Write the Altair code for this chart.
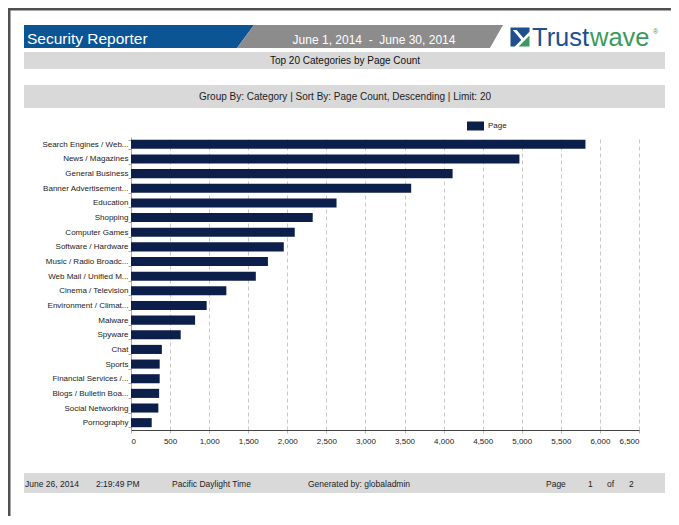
import altair as alt
import pandas as pd

# ---------------- data ----------------
categories = [
    "Search Engines / Web...", "News / Magazines", "General Business",
    "Banner Advertisement...", "Education", "Shopping", "Computer Games",
    "Software / Hardware", "Music / Radio Broadc...", "Web Mail / Unified M...",
    "Cinema / Television", "Environment / Climat...", "Malware", "Spyware",
    "Chat", "Sports", "Financial Services /...", "Blogs / Bulletin Boa...",
    "Social Networking", "Pornography",
]
pages = [5815, 4970, 4115, 3585, 2630, 2325, 2095, 1955, 1752, 1597,
         1220, 968, 820, 636, 395, 367, 367, 360, 350, 265]
series = ["Page"] * len(categories)
x_ticks = list(range(0, 7000, 500))

title_text = "Security Reporter"
date_text = "June 1, 2014\u00a0\u00a0-\u00a0\u00a0June 30, 2014"
report_title = "Top 20 Categories by Page Count"
group_text = "Group By: Category | Sort By: Page Count, Descending | Limit: 20"
footer_items = [("June 26, 2014", 25), ("2:19:49 PM", 96), ("Pacific Daylight Time", 172),
                ("Generated by: globaladmin", 308), ("Page", 546), ("1", 588),
                ("of", 607), ("2", 629)]

FONT = "Liberation Sans"
BAR = "#0c1f4b"
BLUE = "#0b5595"
GRAY_HDR = "#8c8c8c"
BAND = "#d9d9d9"

# plot origin in page coordinates (page margin 8 + padding)
PADL, PADT = 123, 129
W, H = 508, 293
OX, OY = 8 + PADL, 8 + PADT

one = pd.DataFrame({"k": [0]})


def rect(x1, y1, x2, y2, color):
    return alt.Chart(one).mark_rect(color=color).encode(
        x=alt.value(x1 - OX), x2=alt.value(x2 - OX),
        y=alt.value(y1 - OY), y2=alt.value(y2 - OY))


def txt(s, X, Y, size, color, align="left", weight="normal"):
    return alt.Chart(one).mark_text(
        text=s, align=align, baseline="middle", fontSize=size, color=color,
        font=FONT, fontWeight=weight).encode(
        x=alt.value(X - OX), y=alt.value(Y - OY))


def shape(path, cx, cy, half, color):
    return alt.Chart(one).mark_point(
        shape=path, filled=True, size=(2 * half) ** 2, color=color,
        opacity=1, strokeWidth=0).encode(
        x=alt.value(cx - OX), y=alt.value(cy - OY))


layers = []
# page border (left + top)
layers.append(rect(8, 8, 679, 10.5, "#505050"))
layers.append(rect(8, 8, 10.5, 525, "#505050"))

# header: blue parallelogram
layers.append(shape("M-1,-0.1L1,-0.1L0.852,0.1L-1,0.1Z", 139, 36.5, 115, BLUE))
# header: gray parallelogram
layers.append(shape("M-0.872,-0.0865L1,-0.0865L0.902,0.0865L-1,0.0865Z", 370, 36.5, 133, GRAY_HDR))
layers.append(txt(title_text, 27, 39, 15.5, "white"))
layers.append(txt(date_text, 374, 39.5, 12, "white", align="center"))

# logo
layers.append(shape("M-1,-1L1,-1L1,-0.55L-0.55,1L-1,1Z", 520, 37, 9.5, "#1d4f91"))
layers.append(shape("M1,-0.15L1,1L-0.15,1Z", 520, 37, 9.5, "#3a9a5c"))
layers.append(shape("M-0.75,-0.75L-0.35,-0.75L0.55,0.35L0.15,0.35Z", 520, 37, 9.5, "white"))
layers.append(txt("Trust", 532, 38, 25.5, "#1d4f91"))
layers.append(txt("wave", 590, 38, 25.5, "#3a9a5c"))
layers.append(txt("\u00ae", 653, 32, 7, "#3a9a5c"))

# gray bands
layers.append(rect(24, 52, 665, 69, BAND))
layers.append(txt(report_title, 345, 61, 10, "#111", align="center"))
layers.append(rect(24, 85, 665, 108, BAND))
layers.append(txt(group_text, 345, 97, 10, "#222", align="center"))
layers.append(rect(24, 473, 665, 493, BAND))
for s, X in footer_items:
    layers.append(txt(s, X, 483.5, 8.5, "#222"))

# ---------------- bar chart ----------------
df = pd.DataFrame({"Category": categories, "Page Count": pages, "Series": series})

bars = alt.Chart(df).mark_bar().encode(
    y=alt.Y("Category:N", sort=categories,
            scale=alt.Scale(paddingInner=0.38, paddingOuter=0.19),
            axis=alt.Axis(title=None, labelFontSize=8, labelColor="#222", labelFont=FONT,
                          domainColor="#aaaaaa", tickColor="#aaaaaa", tickSize=3,
                          tickBand="extent", labelPadding=0, grid=False)),
    x=alt.X("Page Count:Q", scale=alt.Scale(domain=[0, 6500], nice=False, zero=True),
            axis=alt.Axis(title=None, values=x_ticks, format=",.0f", labelFontSize=8,
                          labelColor="#222", labelFont=FONT, labelPadding=4,
                          grid=True, gridDash=[4, 3], gridColor="#c8c8c8",
                          domainColor="#444444", tickColor="#bbbbbb", tickSize=3)),
    color=alt.Color("Series:N", scale=alt.Scale(range=[BAR]),
                    legend=alt.Legend(title=None, orient="none", legendX=336, legendY=-19.5,
                                      symbolType="M-1,-0.53L1,-0.53L1,0.53L-1,0.53Z",
                                      symbolSize=289, symbolStrokeWidth=0,
                                      labelFontSize=8, labelFont=FONT, labelColor="#222",
                                      padding=0, labelOffset=4)),
)

chart = alt.layer(*layers, bars).properties(
    width=W, height=H,
    autosize=alt.AutoSizeParams(type="none"),
    padding={"left": PADL, "top": PADT, "right": 32, "bottom": 86},
    background="white",
).configure_view(stroke=None)

chart.save("out.html", embed_options={"renderer": "svg", "actions": False})
